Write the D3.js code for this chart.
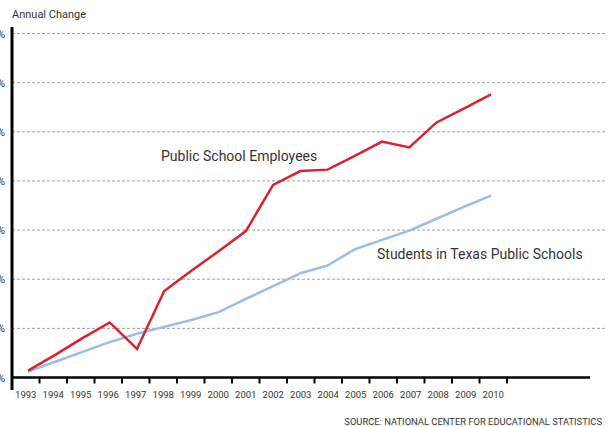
<!DOCTYPE html>
<html>
<head>
<meta charset="utf-8">
<script src="https://cdn.jsdelivr.net/npm/d3@7"></script>
<style>
  html, body { margin: 0; padding: 0; background: #fff; }
  svg { display: block; font-family: Roboto, "Liberation Sans", sans-serif; }
</style>
</head>
<body>
<svg id="chart" width="611" height="427"></svg>
<script>
// Cumulative change since 1993, percent
const years = d3.range(1993, 2011);
const employees = [1.4, 4.6, 8.0, 11.2, 5.8, 17.6, 21.7, 25.7, 29.8, 39.2, 42.0, 42.3, 45.1, 48.0, 46.8, 51.9, 54.7, 57.6];
const students  = [1.2, 3.2, 5.2, 7.2, 8.9, 10.3, 11.7, 13.3, 16.0, 18.6, 21.2, 22.8, 26.1, 28.0, 29.9, 32.3, 34.7, 37.0];
const yTicks = [0, 10, 20, 30, 40, 50, 60, 70];

const svg = d3.select("#chart");

const axisLeftX = 12, gridRight = 605, axisRight = 590;
const yScale = d3.scaleLinear().domain([0, 70]).range([377.5, 33.5]);
const xBand = d3.scaleBand().domain(years).range([12, 507]);
const xPoint = d3.scalePoint().domain(years).range([28, 491]);

// Title
svg.append("text")
  .attr("x", 12).attr("y", 18)
  .attr("font-size", 11).attr("fill", "#333")
  .text("Annual Change");

// Dashed gridlines
svg.append("g").selectAll("line")
  .data(yTicks.filter(d => d > 0))
  .join("line")
  .attr("x1", axisLeftX).attr("x2", gridRight)
  .attr("y1", d => yScale(d)).attr("y2", d => yScale(d))
  .attr("stroke", "#a0a0a0").attr("stroke-width", 1)
  .attr("stroke-dasharray", "3,2");

// Y labels (mostly outside the left edge)
svg.append("g").selectAll("text")
  .data(yTicks)
  .join("text")
  .attr("x", 5).attr("y", d => yScale(d) + 4)
  .attr("text-anchor", "end")
  .attr("font-size", 11).attr("fill", "#333")
  .text(d => d + "%");

// Lines
const line = vals => d3.line()
  .x((d, i) => xPoint(years[i]))
  .y(d => yScale(d))(vals);

svg.append("path")
  .attr("d", line(students))
  .attr("fill", "none").attr("stroke", "#99bde6").attr("stroke-width", 2.5)
  .attr("stroke-linejoin", "round");

svg.append("path")
  .attr("d", line(employees))
  .attr("fill", "none").attr("stroke", "#d9232d").attr("stroke-width", 2.5)
  .attr("stroke-linejoin", "miter");

// X axis
svg.append("line")
  .attr("x1", axisLeftX).attr("x2", axisRight)
  .attr("y1", yScale(0)).attr("y2", yScale(0))
  .attr("stroke", "#000").attr("stroke-width", 2.5);

svg.append("g").selectAll("line")
  .data(years)
  .join("line")
  .attr("x1", d => xBand(d) + xBand.bandwidth())
  .attr("x2", d => xBand(d) + xBand.bandwidth())
  .attr("y1", yScale(0)).attr("y2", yScale(0) + 6)
  .attr("stroke", "#000").attr("stroke-width", 2);

svg.append("g").selectAll("text")
  .data(years)
  .join("text")
  .attr("x", d => xBand(d) + xBand.bandwidth() / 2)
  .attr("y", 398)
  .attr("text-anchor", "middle")
  .attr("font-size", 9.5).attr("fill", "#333")
  .text(d => d);

// Y axis
svg.append("line")
  .attr("x1", axisLeftX).attr("x2", axisLeftX)
  .attr("y1", 27).attr("y2", 390)
  .attr("stroke", "#000").attr("stroke-width", 3);

// Series labels
svg.append("text")
  .attr("x", 161).attr("y", 161)
  .attr("font-size", 14).attr("fill", "#333")
  .text("Public School Employees");

svg.append("text")
  .attr("x", 377).attr("y", 259)
  .attr("font-size", 14).attr("fill", "#333")
  .text("Students in Texas Public Schools");

// Source
svg.append("text")
  .attr("x", 602).attr("y", 425)
  .attr("text-anchor", "end")
  .attr("font-size", 9.4).attr("fill", "#333")
  .text("SOURCE: NATIONAL CENTER FOR EDUCATIONAL STATISTICS");
</script>
</body>
</html>
